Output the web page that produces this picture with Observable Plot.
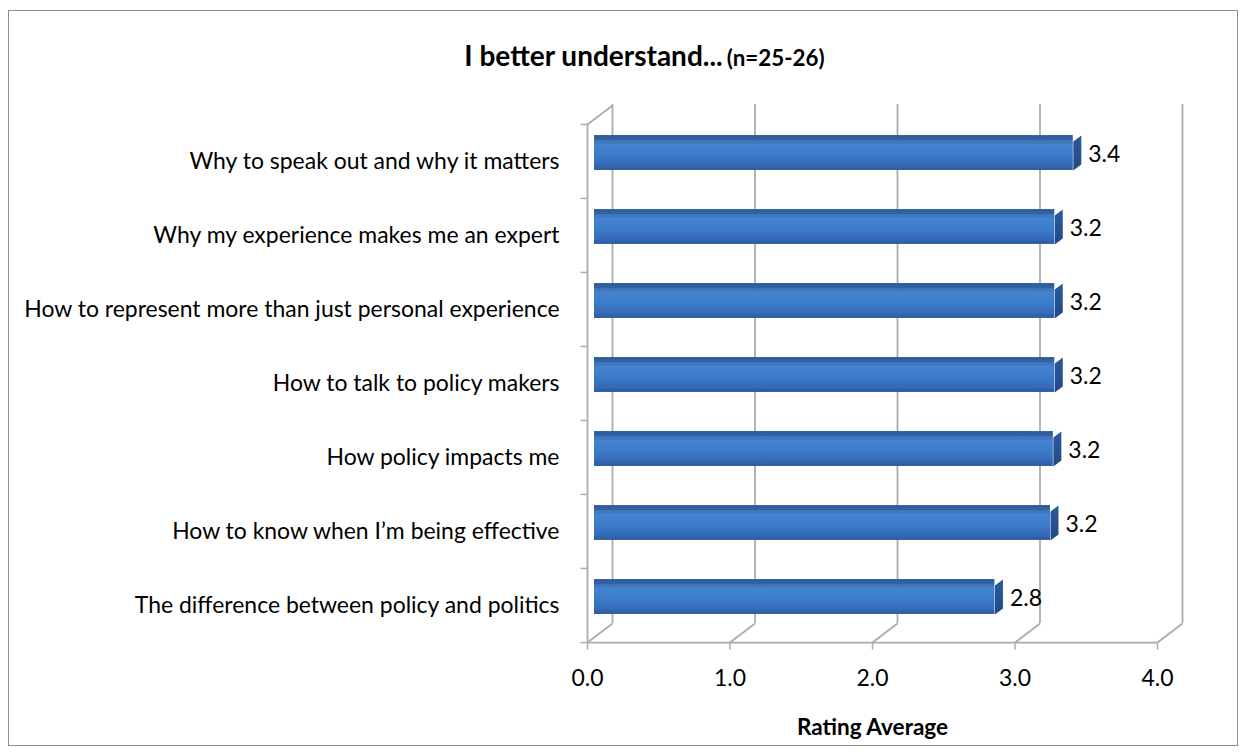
<!DOCTYPE html>
<html>
<head>
<meta charset="utf-8">
<script src="https://cdn.jsdelivr.net/npm/d3@7"></script>
<script src="https://cdn.jsdelivr.net/npm/@observablehq/plot@0.6"></script>
<style>
  html, body { margin: 0; padding: 0; background: #fff; }
  #wrap { position: relative; width: 1248px; height: 756px; overflow: hidden; background: #fff; }
  #border { position: absolute; left: 8px; top: 10px; width: 1230px; height: 736px; border: 1.5px solid #8e8e8e; box-sizing: border-box; }
  #title { position: absolute; white-space: nowrap; line-height: 1; font-weight: bold; color: #000; }
  #chart { position: absolute; left: 0; top: 80px; }
</style>
</head>
<body>
<div id="wrap">
  <div id="border"></div>
  <div id="title"></div>
  <div id="chart"></div>
</div>
<script>
// ---------------- data ----------------
const categories = [
  "Why to speak out and why it matters",
  "Why my experience makes me an expert",
  "How to represent more than just personal experience",
  "How to talk to policy makers",
  "How policy impacts me",
  "How to know when I\u2019m being effective",
  "The difference between policy and politics"
];
const values = [3.36, 3.23, 3.23, 3.23, 3.22, 3.20, 2.81];
const xTicks = [0, 1, 2, 3, 4];
const xTickLabels = ["0.0", "1.0", "2.0", "3.0", "4.0"];
const titleText = "I better understand...";
const subtitleText = "(n=25-26)";
const xLabel = "Rating Average";

// ---------------- fonts ----------------
const FONT = "Lato, 'Open Sans', 'DejaVu Sans', sans-serif";
const ctx2d = document.createElement("canvas").getContext("2d");
function textWidth(t, weight) { ctx2d.font = `${weight} 100px ${FONT}`; return ctx2d.measureText(t).width; }
function fit(t, weight, target) { return 100 * target / textWidth(t, weight); }
const longest = categories.reduce((a, b) => textWidth(a, "normal") >= textWidth(b, "normal") ? a : b);
const labelSize = fit(longest, "normal", 536);
const axisTitleSize = fit(xLabel, "bold", 152);
const titleSize = fit(titleText, "bold", 259);
const subtitleSize = fit(subtitleText, "bold", 98);

// ---------------- title ----------------
const titleDiv = document.getElementById("title");
titleDiv.style.fontFamily = FONT;
titleDiv.innerHTML = `<span style="font-size:${titleSize}px">${titleText}</span> <span style="font-size:${subtitleSize}px">${subtitleText}</span>`;
titleDiv.style.left = "644.5px";
titleDiv.style.transform = "translateX(-50%)";
titleDiv.style.top = (66 - 0.887 * titleSize) + "px";

// ---------------- layout ----------------
const W = 1248, H = 676;
const mL = 587, mR = 91, mT = 43, mB = 114;
const n = categories.length;
const bw = (H - mT - mB) / n;            // band height
const frameW = W - mL - mR;
const DX = 25, DY = -19;                 // wall depth
const barH = 29, bOX = 7, bOY = -5.5;    // bar front face
const bDX = 8, bDY = -6;                 // bar depth
const inset = (bw - barH) / 2;
const grid = "#acacac";
const gridW = 1.8;

const data = categories.map((category, i) => ({category, value: values[i]}));
const first = categories[0], last = categories[n - 1];

function shape(points, close) {
  return {draw(ctx) {
    ctx.moveTo(points[0][0], points[0][1]);
    for (let i = 1; i < points.length; i++) ctx.lineTo(points[i][0], points[i][1]);
    if (close) ctx.closePath();
  }};
}
const sideFace = shape([[0, -barH / 2], [bDX, -barH / 2 + bDY], [bDX, barH / 2 + bDY], [0, barH / 2]], true);
const diag = shape([[0, 0], [DX, DY]], false);
const downTick = shape([[0, 0], [0, 7]], false);
const leftTick = shape([[-7, 0], [0, 0]], false);
const floorFront = shape([[0, 0], [frameW, 0]], false);
const wallShadow = shape([[0, -barH / 2 - 3], [12, -barH / 2 - 3], [12, barH / 2 + 5], [0, barH / 2 + 5]], true);

const svg = Plot.plot({
  width: W, height: H,
  marginLeft: mL, marginRight: mR, marginTop: mT, marginBottom: mB,
  style: {fontFamily: FONT, fontSize: labelSize + "px", color: "#000", background: "transparent", overflow: "visible"},
  x: {domain: [0, 4], ticks: xTicks, tickFormat: d => xTickLabels[xTicks.indexOf(d)], tickSize: 0, tickPadding: 27, label: null},
  y: {domain: categories, padding: 0, tickSize: 0, tickPadding: 28, label: null},
  marks: [
    // back wall gridlines (incl. back edge of left wall)
    Plot.ruleX(xTicks, {dx: DX, dy: DY, stroke: grid, strokeWidth: gridW}),
    // left wall front edge
    Plot.ruleX([0], {stroke: grid, strokeWidth: gridW}),
    // left wall top edge
    Plot.dot([first], {x: () => 0, y: d => d, dy: -bw / 2, symbol: diag, fill: "none", stroke: grid, strokeWidth: gridW}),
    // left wall shading near bars
    Plot.dot(categories, {x: () => 0, y: d => d, dx: 2, dy: bOY, symbol: wallShadow, fill: "url(#wallShade)", stroke: "none", filter: "url(#blur)"}),
    // left axis tick marks at band edges
    Plot.dot(categories, {x: () => 0, y: d => d, dy: -bw / 2, symbol: leftTick, fill: "none", stroke: grid, strokeWidth: 1.5}),
    Plot.dot([last], {x: () => 0, y: d => d, dy: bw / 2, symbol: leftTick, fill: "none", stroke: grid, strokeWidth: 1.5}),
    // floor front edge
    Plot.dot([last], {x: () => 0, y: d => d, dy: bw / 2, symbol: floorFront, fill: "none", stroke: grid, strokeWidth: gridW}),
    // floor diagonals and x tick marks
    Plot.dot(xTicks, {x: d => d, y: () => last, dy: bw / 2, symbol: diag, fill: "none", stroke: grid, strokeWidth: gridW}),
    Plot.dot(xTicks, {x: d => d, y: () => last, dy: bw / 2, symbol: downTick, fill: "none", stroke: grid, strokeWidth: 1.5}),
    // bar top faces (skewed after render)
    Plot.barX(data, {x: "value", y: "category", insetTop: inset + bDY, insetBottom: bw - inset, dx: bOX, dy: bOY, fill: "url(#barTop)", ariaLabel: "bar top face"}),
    // bar front faces
    Plot.barX(data, {x: "value", y: "category", insetTop: inset, insetBottom: inset, dx: bOX, dy: bOY, fill: "url(#barFront)"}),
    // bar side faces
    Plot.dot(data, {x: "value", y: "category", dx: bOX, dy: bOY, symbol: sideFace, fill: "url(#barSide)", stroke: "none"}),
    // value labels
    Plot.text(data, {x: "value", y: "category", text: d => d3.format(".1f")(d.value), dx: bOX + 15, dy: bOY - 1, textAnchor: "start", fill: "#000"}),
    // axis title
    Plot.text([xLabel], {frameAnchor: "bottom", text: d => d, dy: 92, fontWeight: "bold", fontSize: axisTitleSize, fill: "#000"})
  ]
});

// gradients / filters
const defs = d3.select(svg).insert("defs", ":first-child");
function vgrad(id, stops) {
  const g = defs.append("linearGradient").attr("id", id).attr("x1", 0).attr("y1", 0).attr("x2", 0).attr("y2", 1);
  stops.forEach(([o, c]) => g.append("stop").attr("offset", o).attr("stop-color", c));
}
vgrad("barFront", [[0, "#3a6db7"], [0.12, "#4483d1"], [0.45, "#3d7ccb"], [0.85, "#3469b6"], [1, "#2b5798"]]);
vgrad("barTop", [[0, "#2a5996"], [1, "#3467ad"]]);
vgrad("barSide", [[0, "#2a5a9c"], [1, "#214a84"]]);
const hg = defs.append("linearGradient").attr("id", "wallShade").attr("x1", 0).attr("y1", 0).attr("x2", 1).attr("y2", 0);
hg.append("stop").attr("offset", 0).attr("stop-color", "#c4c4c4");
hg.append("stop").attr("offset", 1).attr("stop-color", "#ffffff").attr("stop-opacity", 0);
defs.append("filter").attr("id", "blur").attr("x", "-50%").attr("y", "-50%").attr("width", "200%").attr("height", "200%")
  .append("feGaussianBlur").attr("stdDeviation", 1.8);

// skew top faces into parallelograms
const skew = Math.atan2(-bDX, -bDY) * 180 / Math.PI;
d3.select(svg).selectAll('g[aria-label="bar top face"] rect').attr("transform", function () {
  const yb = +this.getAttribute("y") + +this.getAttribute("height");
  return `translate(0,${yb}) skewX(${skew}) translate(0,${-yb})`;
});

document.getElementById("chart").appendChild(svg);
</script>
</body>
</html>
